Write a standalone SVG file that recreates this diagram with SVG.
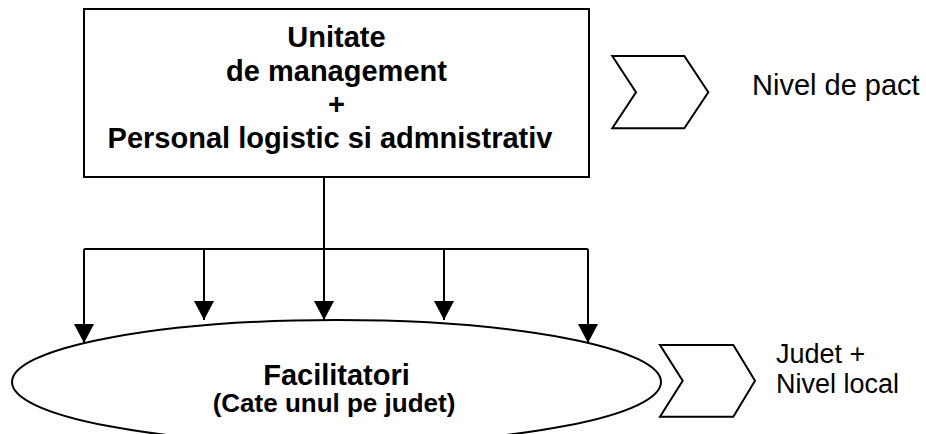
<svg xmlns="http://www.w3.org/2000/svg" width="926" height="434" viewBox="0 0 926 434">
<style>
  .shape { fill: #ffffff; stroke: #000000; stroke-width: 2; }
  .line { fill: none; stroke: #000000; stroke-width: 2; }
  .bold { font-family: "Liberation Sans", Arial, sans-serif; font-weight: bold; fill: #000; }
  .reg { font-family: "Liberation Sans", Arial, sans-serif; fill: #000; }
</style>
<defs>
  <marker id="arrow" markerUnits="userSpaceOnUse" markerWidth="20" markerHeight="20" viewBox="0 0 19 20" refX="19" refY="10" orient="auto">
    <path d="M0,0 L19,10 L0,20 z" fill="#000"/>
  </marker>
</defs>
<rect width="926" height="434" fill="#ffffff"/>
<g id="connectors">
  <path class="line" d="M324,177 V249 M84,249 H588"/>
  <line class="line" x1="84" y1="249" x2="84" y2="343" marker-end="url(#arrow)"/>
  <line class="line" x1="204" y1="249" x2="204" y2="320" marker-end="url(#arrow)"/>
  <line class="line" x1="324" y1="249" x2="324" y2="320" marker-end="url(#arrow)"/>
  <line class="line" x1="444" y1="249" x2="444" y2="320" marker-end="url(#arrow)"/>
  <line class="line" x1="588" y1="249" x2="588" y2="343" marker-end="url(#arrow)"/>
</g>
<g id="management">
  <rect class="shape" x="84" y="9" width="505" height="168"/>
  <text class="bold" font-size="29" text-anchor="middle" x="336.5" y="47">Unitate</text>
  <text class="bold" font-size="29" text-anchor="middle" x="336.5" y="81">de management</text>
  <text class="bold" font-size="29" text-anchor="middle" x="336.5" y="114">+</text>
  <text class="bold" font-size="29" text-anchor="middle" x="330" y="148">Personal logistic si admnistrativ</text>
</g>
<g id="facilitatori">
  <ellipse class="shape" cx="336.5" cy="382" rx="324.5" ry="62" stroke-width="1.6"/>
  <text class="bold" font-size="29" text-anchor="middle" x="336.5" y="385">Facilitatori</text>
  <text class="bold" font-size="26" text-anchor="middle" x="334" y="412">(Cate unul pe judet)</text>
</g>
<g id="chevron-pact">
  <polygon class="shape" stroke-width="1.5" points="612.3,56 684.3,56 708.3,92.3 684.3,128.3 612.3,128.3 636,92.3"/>
  <text class="reg" font-size="29" x="752" y="95">Nivel de pact</text>
</g>
<g id="chevron-local">
  <polygon class="shape" stroke-width="1.5" points="660,345 733.3,345 755,380.7 733.3,416.7 660,416.7 682.7,380.7"/>
  <text class="reg" font-size="27" x="776" y="363">Judet +</text>
  <text class="reg" font-size="27" x="776" y="393">Nivel local</text>
</g>
</svg>
